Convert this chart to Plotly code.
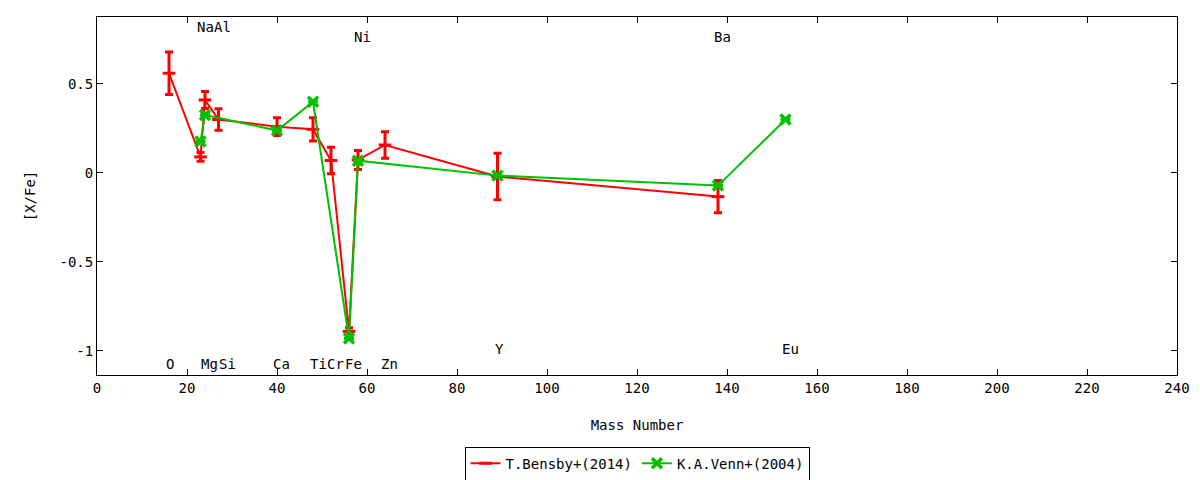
import plotly.graph_objects as go

# T.Bensby+(2014)
bensby_mass = [16, 23, 24, 27, 40, 48, 52, 56, 58, 64, 89, 138]
bensby_xfe = [0.56, 0.09, 0.41, 0.30, 0.26, 0.245, 0.07, -0.89, 0.073, 0.157, -0.02, -0.133]
bensby_err = [0.12, 0.025, 0.048, 0.06, 0.05, 0.065, 0.075, 0.02, 0.053, 0.075, 0.13, 0.09]

# K.A.Venn+(2004)
venn_mass = [23, 24, 40, 48, 56, 58, 89, 138, 153]
venn_xfe = [0.176, 0.326, 0.238, 0.40, -0.93, 0.069, -0.015, -0.071, 0.30]
venn_err = [0, 0, 0, 0, 0, 0, 0, 0, 0]

# element labels
label_names = ["Na", "Al", "Ni", "Ba", "O", "Mg", "Si", "Ca", "Ti", "Cr", "Fe", "Zn", "Y", "Eu"]
label_x = [24.0, 27.8, 59.0, 139.0, 16.2, 25.0, 29.0, 41.0, 49.2, 52.9, 57.0, 65.1, 89.4, 154.1]
label_y = [0.818, 0.818, 0.762, 0.762, -1.073, -1.073, -1.073, -1.073, -1.073, -1.073, -1.073, -1.073, -0.99, -0.99]

x_ticks = list(range(0, 241, 20))
y_ticks = [-1, -0.5, 0, 0.5]
y_tick_text = ["-1", "-0.5", "0", "0.5"]

FONT = "DejaVu Sans Mono"
RED = "#ff0000"
GREEN = "#00c000"

fig = go.Figure()
fig.add_trace(go.Scatter(
    x=bensby_mass, y=bensby_xfe, mode="lines+markers", name="T.Bensby+(2014)",
    line=dict(color=RED, width=2),
    marker=dict(symbol="line-ew", size=9, color=RED, line=dict(color=RED, width=3)),
    error_y=dict(type="data", array=bensby_err, visible=True, color=RED, thickness=3, width=4),
))
fig.add_trace(go.Scatter(
    x=venn_mass, y=venn_xfe, mode="lines+markers", name="K.A.Venn+(2004)",
    line=dict(color=GREEN, width=2),
    marker=dict(symbol="x-thin", size=10, color=GREEN, line=dict(color=GREEN, width=3.5)),
    error_y=dict(type="data", array=venn_err, visible=True, color=GREEN, thickness=3, width=5),
))

for name, lx, ly in zip(label_names, label_x, label_y):
    fig.add_annotation(x=lx, y=ly, text=name, showarrow=False, xanchor="center", yanchor="middle",
                       font=dict(family=FONT, size=14, color="black"))

axis_common = dict(showgrid=False, zeroline=False, showline=True, linecolor="black", linewidth=1,
                   mirror="ticks", ticks="inside", ticklen=6, tickcolor="black",
                   tickfont=dict(family=FONT, size=14, color="black"))

fig.update_xaxes(range=[0, 240], tickvals=x_ticks, automargin=False,
                 title=dict(text="Mass Number", font=dict(family=FONT, size=14, color="black"), standoff=25),
                 **axis_common)
fig.update_yaxes(range=[-1.135, 0.876], tickvals=y_ticks, ticktext=y_tick_text, automargin=False,
                 title=dict(text="[X/Fe]", font=dict(family=FONT, size=14, color="black"), standoff=20),
                 **axis_common)

fig.update_layout(
    width=1200, height=480,
    margin=dict(l=97, r=23, t=17, b=105, autoexpand=False),
    plot_bgcolor="white", paper_bgcolor="white",
    font=dict(family=FONT, size=14, color="black"),
    showlegend=True,
    legend=dict(orientation="h", x=0.5, xanchor="center", yref="container", y=0.034, yanchor="middle",
                bordercolor="black", borderwidth=1, bgcolor="white",
                font=dict(family=FONT, size=14, color="black")),
)

fig.write_html("out.html", config={"displayModeBar": False},
               post_script="document.body.style.margin='0';document.body.style.overflow='hidden';")
